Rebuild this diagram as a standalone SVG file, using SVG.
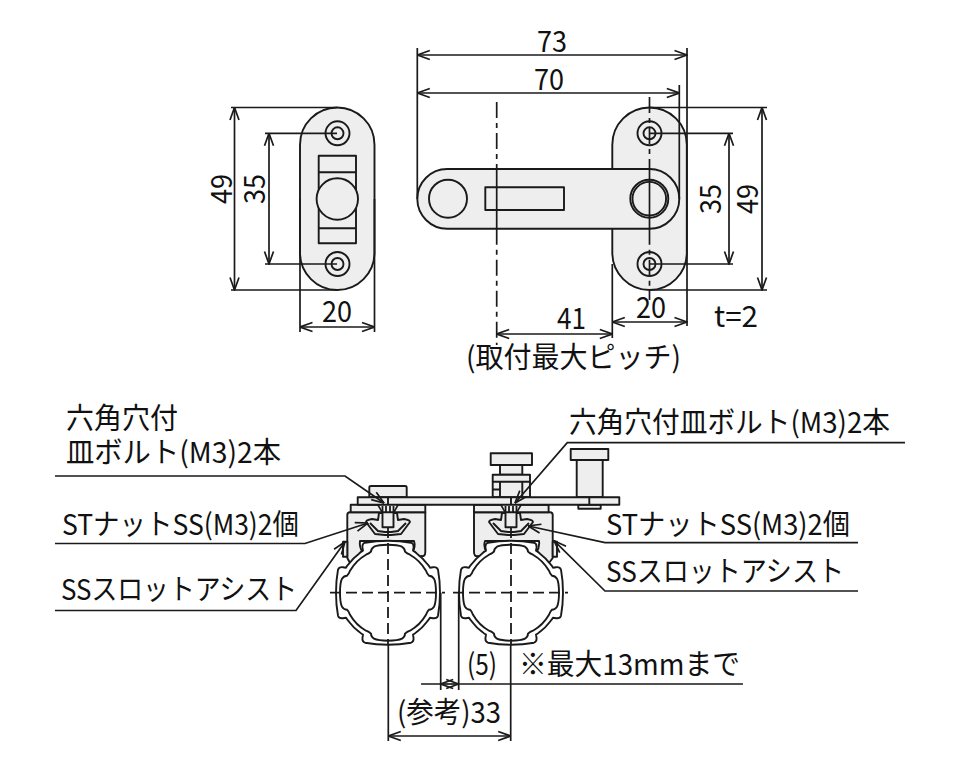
<svg xmlns="http://www.w3.org/2000/svg" xmlns:xlink="http://www.w3.org/1999/xlink" width="960" height="768" viewBox="0 0 960 768">
<style>
.p{fill:#eeeeee;stroke:#1a1a1a;stroke-width:1.9;stroke-linejoin:round}
.o{fill:none;stroke:#1a1a1a;stroke-width:1.9}
.t{fill:#fff;stroke:#1a1a1a;stroke-width:1.9;stroke-linejoin:round}
.d{fill:none;stroke:#1a1a1a;stroke-width:1.7}
.c{fill:none;stroke:#1a1a1a;stroke-width:1.7;stroke-dasharray:16 5 5 5}
.k{fill:none;stroke:#1a1a1a;stroke-width:1.8;stroke-dasharray:11 5}
.a{marker-start:url(#ar);marker-end:url(#ar)}
.e{marker-end:url(#ar)}
text{font-family:"Noto Sans CJK JP","Noto Sans",sans-serif;font-size:29px;fill:#111;stroke:none}
</style>
<defs>
<marker id="ar" viewBox="0 0 14 12" refX="13.5" refY="6" markerWidth="14" markerHeight="12" markerUnits="userSpaceOnUse" orient="auto-start-reverse"><path d="M1 1.5L13.5 6L1 10.5" fill="none" stroke="#1a1a1a" stroke-width="1.7"/></marker>
<g id="hole"><circle r="12" class="o"/><circle r="6" class="o"/></g>
<path id="tubeO" d="M52 0Q52 12 50 23Q49 26 45 25.5L42 25Q41 27 39 29A49 49 0 0 1 29 39Q27 41 25 42L25.5 45Q26 49 23 50Q12 52 0 52Q-12 52 -23 50Q-26 49 -25.5 45L-25 42Q-27 41 -29 39A49 49 0 0 1 -39 29Q-41 27 -42 25L-45 25.5Q-49 26 -50 23Q-52 12 -52 0Q-52 -12 -50 -23Q-49 -26 -45 -25.5L-42 -25Q-41 -27 -39 -29A49 49 0 0 1 -29 -39Q-27 -41 -25 -42L-25.5 -45Q-26 -49 -23 -50Q-12 -52 0 -52Q12 -52 23 -50Q26 -49 25.5 -45L25 -42Q27 -41 29 -39A49 49 0 0 1 39 -29Q41 -27 42 -25L45 -25.5Q49 -26 50 -23Q52 -12 52 0Z"/>
<path id="tubeI" d="M48 0Q48 10 46 14Q44 17 41 17Q39 19 38 22A44 44 0 0 1 22 38Q19 39 17 41Q17 44 14 46Q10 48 0 48Q-10 48 -14 46Q-17 44 -17 41Q-19 39 -22 38A44 44 0 0 1 -38 22Q-39 19 -41 17Q-44 17 -46 14Q-48 10 -48 0Q-48 -10 -46 -14Q-44 -17 -41 -17Q-39 -19 -38 -22A44 44 0 0 1 -22 -38Q-19 -39 -17 -41Q-17 -44 -14 -46Q-10 -48 0 -48Q10 -48 14 -46Q17 -44 17 -41Q19 -39 22 -38A44 44 0 0 1 38 -22Q39 -19 41 -17Q44 -17 46 -14Q48 -10 48 0Z"/>
<path id="nut" d="M-22 3L-13 15L-3 16H3L13 15L22 3Q22 1 16 0L10 1L9 -6H-9L-10 1L-16 0Q-22 1 -22 3Z"/>
<path id="nutI" d="M-18 4L-10 12L-3 13H3L10 12L18 4"/>
<g id="sink"><path d="M-10 0L-6 7L6 7L10 0Z" fill="#eee" stroke="#1a1a1a" stroke-width="1.6"/><path d="M-5.5 1V7M-2 1V7M2 1V7M5.5 1V7" stroke="#1a1a1a" stroke-width="1.8"/></g>
</defs>

<g id="plate-left">
<rect class="p" x="300" y="107.5" width="74.5" height="182.5" rx="37.25"/>
<rect class="p" x="318.7" y="155.7" width="37.3" height="87.5"/>
<path class="o" d="M318.7 172.3H356M318.7 228.3H356"/>
<circle class="p" cx="337.3" cy="199" r="20.7"/>
<use xlink:href="#hole" href="#hole" x="337.5" y="133.3"/>
<use xlink:href="#hole" href="#hole" x="337.5" y="264"/>
</g>

<g id="plate-right">
<rect class="p" x="612.3" y="107.5" width="74.5" height="182.5" rx="37.25"/>
<use xlink:href="#hole" href="#hole" x="649.5" y="133.3"/>
<use xlink:href="#hole" href="#hole" x="649.5" y="264"/>
</g>
<g id="arm">
<rect class="p" x="417.3" y="169" width="262" height="59.7" rx="29.85"/>
<circle class="o" cx="448" cy="198.7" r="19"/>
<rect class="p" x="485.3" y="187.3" width="78.7" height="22.7"/>
<circle class="o" cx="649.3" cy="198.7" r="19"/>
<circle class="o" cx="649.3" cy="198.7" r="16.8"/>
</g>

<g id="clamp-left">
<path class="p" d="M347.3 515Q347.3 512.3 350 512.3H425.3V552Q425.3 557 421 556L405 570H372L350 563L347.3 558Z"/>
<path class="t" d="M360 541H414Q416 547 412 553H363Q359 547 360 541Z"/>
<rect class="p" x="343" y="541.7" width="4.3" height="15"/>
<rect class="p" x="350.7" y="504.7" width="74.6" height="7.6"/>
<use xlink:href="#nut" href="#nut" x="388" y="519" class="p"/>
<use xlink:href="#nutI" href="#nutI" x="388" y="519" class="o"/>
<rect class="p" x="382.5" y="512.3" width="11" height="15"/>
</g>
<g id="clamp-right">
<path class="p" d="M552.7 515Q552.7 512.3 550 512.3H474V552Q474 557 478 556L494 570H527L549 563L552.7 558Z"/>
<path class="t" d="M539 541H485Q483 547 487 553H536Q540 547 539 541Z"/>
<rect class="p" x="552.7" y="541.7" width="4.3" height="15"/>
<rect class="p" x="474" y="504.7" width="74.6" height="7.6"/>
<use xlink:href="#nut" href="#nut" x="511" y="519" class="p"/>
<use xlink:href="#nutI" href="#nutI" x="511" y="519" class="o"/>
<rect class="p" x="505.5" y="512.3" width="11" height="15"/>
</g>
<g id="tube-left">
<use xlink:href="#tubeO" href="#tubeO" x="388" y="592.7" class="t"/>
<use xlink:href="#tubeI" href="#tubeI" x="388" y="592.7" class="o"/>
</g>
<g id="tube-right">
<use xlink:href="#tubeO" href="#tubeO" x="511" y="592.7" class="t"/>
<use xlink:href="#tubeI" href="#tubeI" x="511" y="592.7" class="o"/>
</g>
<g id="bolt-head-left"><path class="p" d="M369.3 497.3V487.5Q369.3 486 371 486H405Q406.7 486 406.7 487.5V497.3Z"/></g>
<g id="bolt-center">
<rect class="p" x="490.7" y="453.3" width="41.3" height="11.7"/>
<rect class="p" x="500" y="465" width="22.3" height="9.7"/>
<rect class="p" x="492.7" y="474.7" width="37.3" height="22.6"/>
<path class="o" d="M492.7 481.7H530M492.7 489.5H500M500 481.7V497.3M522.3 481.7V497.3"/>
</g>
<g id="pin-right">
<rect class="p" x="576.7" y="460" width="26" height="37.3"/>
<rect class="p" x="570.7" y="449" width="37.6" height="11"/>
<rect class="p" x="578.3" y="504.7" width="22.4" height="4"/>
</g>
<g id="top-plate">
<rect class="p" x="357.7" y="497.3" width="261.6" height="7.4"/>
<path class="o" d="M589.3 497.3V504.7M388 497.3V505M511 497.3V505"/>
<use xlink:href="#sink" href="#sink" x="388" y="505"/>
<use xlink:href="#sink" href="#sink" x="511" y="505"/>
</g>

<g id="connectors">
<path class="c" d="M496.7 102V169M496.7 228.7V345"/>
<path class="d" d="M496.7 169V228.7"/>
<path class="c" d="M649.5 97V169M649.5 228.7V300"/>
<path class="d" d="M649.5 169V228.7"/>
<path class="k" d="M388 527V645M511 527V645"/>
<path class="k" d="M330 592.7H445M453 592.7H568"/>
<path class="d" d="M388.3 645V741M510.7 645V741"/>
<path class="d" d="M417.3 48V199M687 48V326M679.3 85V199"/>
<path class="d a" d="M417.3 55H687"/>
<path class="d a" d="M417.3 93H679.3"/>
<path class="d" d="M231 107.5H337M231 290H337M265 133.3H337M265 264H337M300 199V332M374.5 199V332"/>
<path class="d a" d="M234.5 107.5V290"/>
<path class="d a" d="M269 133.3V264"/>
<path class="d a" d="M300 327H374.5"/>
<path class="d" d="M650 107.5H767M650 290H767M650 133.3H733M650 264H733M612.3 264V338"/>
<path class="d a" d="M762 107.5V290"/>
<path class="d a" d="M729 133.3V264"/>
<path class="d a" d="M612.3 322H687"/>
<path class="d a" d="M496.7 334H612.3"/>
<path class="d" d="M440.7 592.7V690M458.7 592.7V690M421 684H440.7M458.7 684H743"/>
<path class="d a" d="M440.7 684H458.7"/>
<path class="d a" d="M388.3 736H510.7"/>
<path class="d e" d="M55 476H345L384 503"/>
<path class="d e" d="M905 442.7H567.3L515 503"/>
<path class="d e" d="M55 543.5H305L368 523"/>
<path class="d e" d="M858 542.7H605L528.3 526"/>
<path class="d e" d="M55 610.5H296L345 541.7"/>
<path class="d e" d="M858 591H605L554 540.7"/>
</g>

<g id="labels">
<text x="537" y="52" textLength="30" lengthAdjust="spacingAndGlyphs">73</text>
<text x="534" y="90" textLength="30" lengthAdjust="spacingAndGlyphs">70</text>
<text transform="translate(232 204) rotate(-90)" textLength="30" lengthAdjust="spacingAndGlyphs">49</text>
<text transform="translate(265 204) rotate(-90)" textLength="30" lengthAdjust="spacingAndGlyphs">35</text>
<text x="322" y="322" textLength="30" lengthAdjust="spacingAndGlyphs">20</text>
<text transform="translate(721 214) rotate(-90)" textLength="30" lengthAdjust="spacingAndGlyphs">35</text>
<text transform="translate(758 214) rotate(-90)" textLength="30" lengthAdjust="spacingAndGlyphs">49</text>
<text x="636" y="318" textLength="30" lengthAdjust="spacingAndGlyphs">20</text>
<text x="557" y="329" textLength="29" lengthAdjust="spacingAndGlyphs">41</text>
<text x="714" y="327" textLength="44" lengthAdjust="spacingAndGlyphs">t=2</text>
<text x="466" y="368" textLength="215" lengthAdjust="spacingAndGlyphs">(取付最大ピッチ)</text>
<text x="66" y="429" textLength="112" lengthAdjust="spacingAndGlyphs">六角穴付</text>
<text x="66" y="463" textLength="215" lengthAdjust="spacingAndGlyphs">皿ボルト(M3)2本</text>
<text x="569" y="433" textLength="321" lengthAdjust="spacingAndGlyphs">六角穴付皿ボルト(M3)2本</text>
<text x="62" y="535" textLength="237" lengthAdjust="spacingAndGlyphs">STナットSS(M3)2個</text>
<text x="606" y="535" textLength="244" lengthAdjust="spacingAndGlyphs">STナットSS(M3)2個</text>
<text x="61" y="600" textLength="236" lengthAdjust="spacingAndGlyphs">SSスロットアシスト</text>
<text x="606" y="582" textLength="238" lengthAdjust="spacingAndGlyphs">SSスロットアシスト</text>
<text x="467" y="675" textLength="30" lengthAdjust="spacingAndGlyphs">(5)</text>
<text x="519" y="675" textLength="221" lengthAdjust="spacingAndGlyphs">※最大13mmまで</text>
<text x="397" y="723" textLength="104" lengthAdjust="spacingAndGlyphs">(参考)33</text>
</g>
</svg>
